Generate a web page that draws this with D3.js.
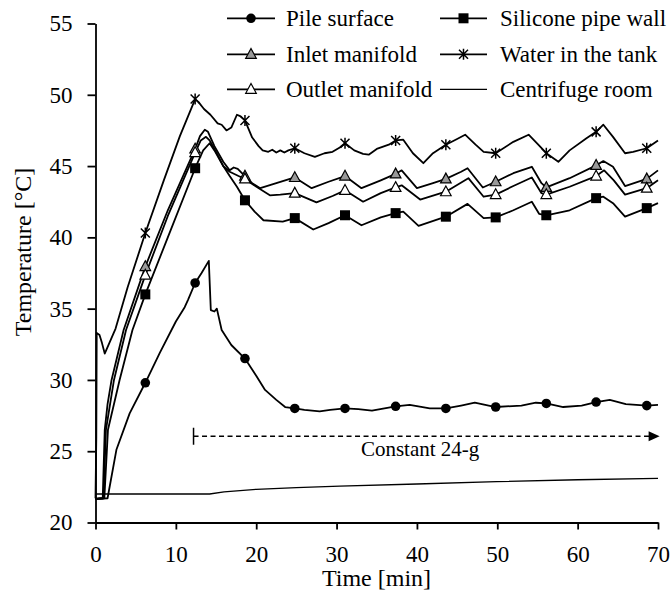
<!DOCTYPE html>
<html><head><meta charset="utf-8">
<script src="https://cdn.jsdelivr.net/npm/d3@7"></script>
<style>
html,body{margin:0;padding:0;background:#fff;}
svg{display:block;}
</style></head>
<body><svg id="chart" width="671" height="591"></svg>
<script>
// ---------- data ----------
const xTicks = [0, 10, 20, 30, 40, 50, 60, 70];
const yTicks = [20, 25, 30, 35, 40, 45, 50, 55];
const markerTimes = [6.2, 12.4, 18.6, 24.8, 31.05, 37.35, 43.6, 49.8, 56.1, 62.3, 68.6];

const pileSurface = [[0,21.65],[1.5,21.7],[2.6,25.1],[4.25,27.65],[6.2,29.8],[8,31.9],[10,34.1],[11.1,35.1],[11.5,35.6],[12.4,36.8],[13.2,37.5],[14.1,38.35],[14.35,34.9],[14.8,34.8],[15.1,35.0],[15.7,33.5],[16.9,32.45],[18.6,31.5],[20,30.3],[21.1,29.3],[22.5,28.6],[23.6,28.1],[24.8,28.0],[26,27.9],[27.9,27.8],[29.2,27.9],[31.05,28.0],[32.7,27.95],[34.4,27.85],[37.35,28.15],[39.1,28.25],[41.6,28.0],[43.6,28.0],[45.5,28.2],[47.2,28.4],[49.8,28.1],[53,28.2],[54.8,28.4],[56.1,28.35],[58.2,28.1],[60.5,28.2],[62.3,28.45],[64,28.6],[66,28.3],[68.6,28.2],[70,28.25]];

const siliconeWall = [[0,21.65],[1.1,21.7],[1.55,26.5],[3.0,30.0],[4.6,33.5],[6.2,36.0],[9,40.0],[12.4,44.85],[13.4,46.1],[14.2,46.6],[14.8,46.1],[15.9,45.0],[16.7,44.3],[17.6,43.55],[18.6,42.6],[19.8,41.8],[20.9,41.2],[23.3,41.1],[24.8,41.35],[27.1,40.55],[29,41.0],[31.05,41.55],[33.1,40.85],[35.5,41.4],[37.35,41.7],[38.3,41.8],[40.2,40.8],[43.6,41.45],[46.3,42.35],[48.3,41.35],[49.8,41.4],[52,41.9],[54.3,42.5],[55.2,41.65],[56.1,41.55],[59,41.9],[62.3,42.75],[63.2,42.85],[64.4,42.4],[65.9,41.45],[68.6,42.05],[70,42.4]];

const inletManifold = [[0,21.65],[0.9,21.7],[1.15,26.5],[1.5,28.3],[2.0,30.0],[3.5,33.5],[6.2,37.95],[9,41.9],[12.4,46.2],[13.0,47.1],[13.6,47.55],[14.0,47.4],[14.8,46.4],[15.9,45.3],[16.7,44.7],[17.2,44.9],[17.7,44.8],[18.6,44.3],[19.5,43.8],[20.5,43.45],[22.5,43.8],[24.8,44.2],[26.9,43.45],[29,43.9],[31.05,44.3],[33.1,43.45],[35.5,44.0],[37.35,44.45],[38.1,44.7],[40,43.45],[42,43.8],[43.6,44.1],[45.5,44.6],[46.3,44.85],[48.2,43.5],[49.8,43.9],[52,44.5],[54.3,44.95],[55.5,43.8],[56.1,43.5],[59,44.15],[62.3,45.05],[63.2,45.35],[64.4,44.95],[65.9,43.6],[68.6,44.1],[70,44.7]];

const waterTank = [[0,21.7],[0.1,26.0],[0.15,33.3],[0.5,33.15],[0.8,32.6],[1.15,31.85],[2.5,33.6],[4.0,36.5],[6.2,40.3],[8.5,44.0],[10.5,47.1],[12.4,49.7],[12.8,49.5],[13.5,49.0],[14.3,48.6],[15.2,48.0],[15.7,47.9],[16.3,47.5],[16.9,47.7],[17.6,48.6],[18.0,48.5],[18.6,48.2],[19.5,47.0],[20.3,46.4],[20.8,46.1],[21.5,46.0],[22.0,46.15],[22.5,45.95],[23.0,46.1],[23.5,45.95],[24.0,46.1],[24.8,46.25],[26,45.9],[27.3,45.65],[28.5,45.9],[29.5,46.0],[30.4,46.3],[31.05,46.6],[32.2,46.1],[33.3,45.85],[34.0,45.8],[35,46.2],[36.5,46.5],[37.35,46.8],[38.3,46.85],[39.5,45.9],[40.8,45.2],[42,45.9],[43.6,46.5],[45,46.9],[46.0,47.2],[47.3,46.5],[48.3,46.0],[49.8,45.9],[52,46.7],[53.9,47.2],[55.1,46.5],[56.1,45.9],[57.6,45.3],[59,46.1],[61.1,46.95],[62.3,47.4],[63.2,47.9],[64.4,47.05],[65.9,45.9],[66.9,46.0],[68.6,46.25],[70,46.8]];

const outletManifold = [[0,21.65],[1.0,21.7],[1.3,26.5],[2.3,30.0],[3.8,33.5],[6.2,37.35],[9,41.5],[12.4,45.95],[13.1,46.8],[13.75,47.05],[14.2,46.8],[15.0,46.0],[15.9,45.0],[16.7,44.6],[17.8,44.3],[18.6,44.1],[19.6,43.7],[21.7,42.95],[23,43.0],[24.8,43.1],[27.5,42.45],[29.5,42.9],[31.05,43.3],[33.3,42.5],[35.5,43.1],[37.35,43.5],[38.1,43.65],[40.4,42.65],[43.6,43.2],[46.4,44.15],[48.3,42.85],[49.8,43.0],[52,43.6],[54.3,44.2],[55.5,43.1],[56.1,43.0],[59,43.55],[62.3,44.3],[63.3,44.7],[64.5,44.0],[65.9,43.0],[68.6,43.45],[70,44.0]];

const centrifugeRoom = [[0,22.0],[14.2,22.0],[16,22.15],[20,22.33],[25,22.45],[30.4,22.55],[40,22.7],[49.9,22.86],[60,23.0],[70,23.1]];

const constantG = {start: 12.2, end: 70.2, level: 26.05, label: "Constant 24-g"};

// ---------- font detection (pick an installed serif face) ----------
const fontCandidates = ["Liberation Serif", "Tinos", "Times New Roman", "Times", "Nimbus Roman", "Nimbus Roman No9 L", "FreeSerif", "DejaVu Serif", "Noto Serif", "Noto Serif CJK SC", "Source Serif Pro", "Georgia"];
function fontAvailable(name) {
  const c = document.createElement("canvas").getContext("2d");
  const test = "mmmmmmmmmmlliWW0123456789";
  return ["monospace", "sans-serif"].every(b => {
    c.font = `72px ${b}`;
    const w0 = c.measureText(test).width;
    c.font = `72px "${name}", ${b}`;
    return c.measureText(test).width !== w0;
  });
}
const found = fontCandidates.find(fontAvailable);
const FONT = found ? `"${found}", serif` : "serif";

// ---------- drawing ----------
const svg = d3.select("#chart");
const x = d3.scaleLinear().domain([0, 70]).range([95.5, 658]);
const y = d3.scaleLinear().domain([20, 55]).range([522.5, 23.5]);

const series = [
  {name: "Pile surface", data: pileSurface, marker: "circle", width: 1.8},
  {name: "Silicone pipe wall", data: siliconeWall, marker: "square", width: 1.8},
  {name: "Inlet manifold", data: inletManifold, marker: "triGray", width: 1.8},
  {name: "Water in the tank", data: waterTank, marker: "star", width: 1.8},
  {name: "Outlet manifold", data: outletManifold, marker: "triWhite", width: 1.8},
  {name: "Centrifuge room", data: centrifugeRoom, marker: null, width: 1.3}
];

function drawMarker(g, type, cx, cy) {
  if (type === "circle") {
    g.append("circle").attr("cx", cx).attr("cy", cy).attr("r", 4.8).attr("fill", "#000");
  } else if (type === "square") {
    g.append("rect").attr("x", cx - 5).attr("y", cy - 5).attr("width", 10).attr("height", 10).attr("fill", "#000");
  } else if (type === "triGray" || type === "triWhite") {
    g.append("path")
      .attr("d", `M${cx},${cy - 5.8}L${cx + 5.3},${cy + 4}L${cx - 5.3},${cy + 4}Z`)
      .attr("fill", type === "triGray" ? "#999" : "#fff")
      .attr("stroke", "#000").attr("stroke-width", 1.2);
  } else if (type === "star") {
    const s = 4.5;
    g.append("path")
      .attr("d", `M${cx - s},${cy - s}L${cx + s},${cy + s}M${cx - s},${cy + s}L${cx + s},${cy - s}M${cx},${cy - s - 1}L${cx},${cy + s + 1}`)
      .attr("stroke", "#000").attr("stroke-width", 1.5).attr("fill", "none");
  }
}

// axes
const gx = svg.append("g").attr("transform", "translate(0,522.5)")
  .call(d3.axisBottom(x).tickValues(xTicks).tickSize(7).tickPadding(16).tickSizeOuter(0));
gx.attr("font-size", 23);
gx.select(".domain").attr("stroke", "#000").attr("stroke-width", 1.8);
gx.selectAll(".tick line").attr("stroke", "#000").attr("stroke-width", 1.8);
gx.selectAll(".tick text").attr("fill", "#000");

const gy = svg.append("g").attr("transform", "translate(95.5,0)")
  .call(d3.axisLeft(y).tickValues(yTicks).tickSize(8).tickPadding(15).tickSizeOuter(0));
gy.attr("font-size", 23);
gy.select(".domain").attr("stroke", "#000").attr("stroke-width", 1.8);
gy.selectAll(".tick line").attr("stroke", "#000").attr("stroke-width", 1.8);
gy.selectAll(".tick text").attr("fill", "#000");

// axis titles
svg.append("text").attr("x", 376.5).attr("y", 586).attr("text-anchor", "middle")
  .attr("font-size", 24).attr("fill", "#000").text("Time [min]");
svg.append("text").attr("transform", "translate(31,252) rotate(-90)").attr("text-anchor", "middle")
  .attr("font-size", 24).attr("fill", "#000").text("Temperature [°C]");

// constant 24-g arrow
const ag = svg.append("g");
ag.append("line").attr("x1", x(constantG.start)).attr("x2", x(constantG.end) - 9)
  .attr("y1", y(constantG.level)).attr("y2", y(constantG.level))
  .attr("stroke", "#000").attr("stroke-width", 1.5).attr("stroke-dasharray", "5,3.5");
ag.append("line").attr("x1", x(constantG.start)).attr("x2", x(constantG.start))
  .attr("y1", y(constantG.level) - 8.5).attr("y2", y(constantG.level) + 8.5)
  .attr("stroke", "#000").attr("stroke-width", 1.5);
const ex = x(constantG.end), ey = y(constantG.level);
ag.append("path").attr("d", `M${ex},${ey}L${ex - 11},${ey - 5}L${ex - 11},${ey + 5}Z`).attr("fill", "#000");
ag.append("text").attr("x", x(40.4)).attr("y", ey + 20).attr("text-anchor", "middle")
  .attr("font-size", 21).attr("fill", "#000").text(constantG.label);

// lines
const line = d3.line().x(d => x(d[0])).y(d => y(d[1]));
const lg = svg.append("g");
series.forEach(s => {
  lg.append("path").datum(s.data).attr("d", line)
    .attr("fill", "none").attr("stroke", "#000").attr("stroke-width", s.width)
    .attr("stroke-linejoin", "round");
});
// markers
const mg = svg.append("g");
series.forEach(s => {
  if (!s.marker) return;
  s.data.filter(d => markerTimes.includes(d[0])).forEach(d => drawMarker(mg, s.marker, x(d[0]), y(d[1])));
});

// legend
const legendCols = [
  {x1: 227, x2: 275, tx: 286, items: [0, 2, 4]},
  {x1: 440, x2: 487, tx: 500, items: [1, 3, 5]}
];
const legendRows = [18.3, 54.3, 89.3];
const leg = svg.append("g");
legendCols.forEach(c => {
  c.items.forEach((si, r) => {
    const s = series[si];
    const ly = legendRows[r];
    leg.append("line").attr("x1", c.x1).attr("x2", c.x2).attr("y1", ly).attr("y2", ly)
      .attr("stroke", "#000").attr("stroke-width", s.width);
    if (s.marker) drawMarker(leg, s.marker, (c.x1 + c.x2) / 2, ly);
    leg.append("text").attr("x", c.tx).attr("y", ly + 8)
      .attr("font-size", 23).attr("fill", "#000").text(s.name);
  });
});

// apply the chosen font to every text element
svg.selectAll("text").style("font-family", FONT);
svg.selectAll("g").attr("font-family", null);
</script>
</body></html>
